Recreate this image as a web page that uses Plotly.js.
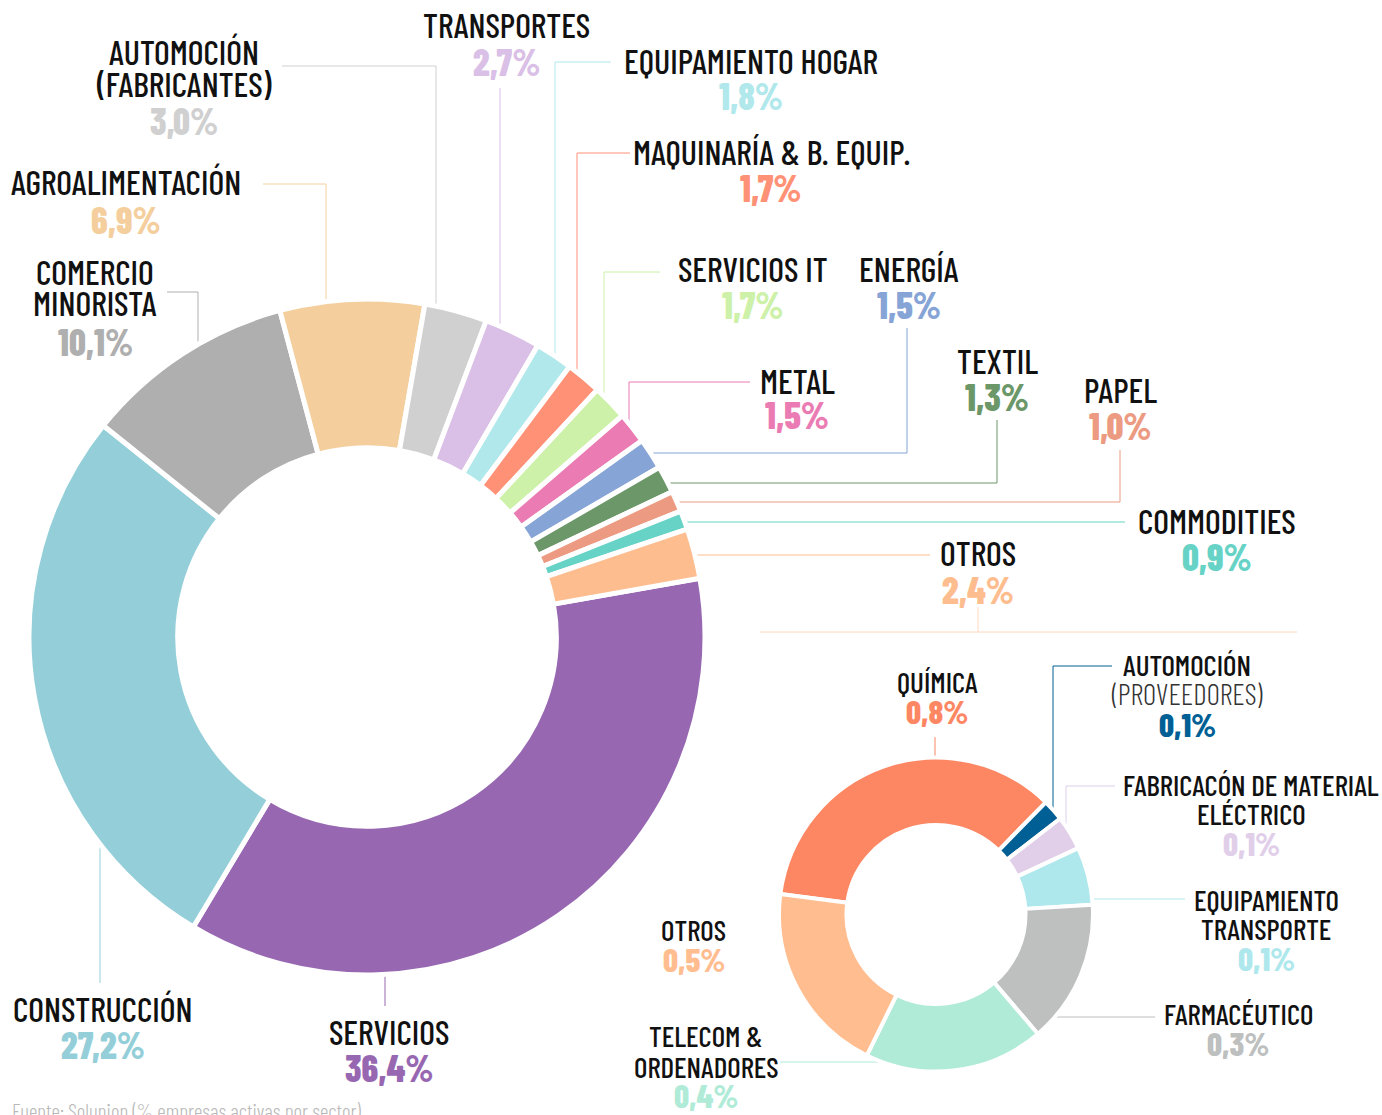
<!DOCTYPE html>
<html><head><meta charset="utf-8">
<script src="https://cdn.plot.ly/plotly-3.0.1.min.js"></script>
<style>html,body{margin:0;padding:0;background:#fff}#chart{width:1382px;height:1115px}</style>
</head><body><div id="chart"></div>
<script>
// ---------------- DATA ----------------
const bigLabels = ["Servicios","Construcción","Comercio minorista","Agroalimentación","Automoción (fabricantes)","Transportes","Equipamiento hogar","Maquinaría & B. equip.","Servicios IT","Metal","Energía","Textil","Papel","Commodities","Otros"];
const bigValues = [36.4,27.2,10.1,6.9,3.0,2.7,1.8,1.7,1.7,1.5,1.5,1.3,1.0,0.9,2.4];
const bigColors = ["#9768b1","#94cfd9","#afafb0","#f4cf9d","#cfd0cf","#dabfe6","#b0e8ec","#ff9176","#cdf1a8","#eb7bb3","#86a4d6","#6c9769","#ec9b82","#66d3c6","#febd8f"];
const bigNames = [["SERVICIOS"],["CONSTRUCCIÓN"],["COMERCIO","MINORISTA"],["AGROALIMENTACIÓN"],["AUTOMOCIÓN","(FABRICANTES)"],["TRANSPORTES"],["EQUIPAMIENTO HOGAR"],["MAQUINARÍA & B. EQUIP."],["SERVICIOS IT"],["METAL"],["ENERGÍA"],["TEXTIL"],["PAPEL"],["COMMODITIES"],["OTROS"]];

const smallLabels = ["Química","Automoción (proveedores)","Fabricacón de material eléctrico","Equipamiento transporte","Farmacéutico","Telecom & ordenadores","Otros"];
const smallValues = [0.8,0.05,0.08,0.135,0.335,0.42,0.45];   // slice sizes
const smallPrinted = [0.8,0.1,0.1,0.1,0.3,0.4,0.5];           // printed percentages
const smallColors = ["#fe8763","#005f94","#e1cfea","#afe8ec","#bebfbf","#b0ebd8","#ffbd90"];
const smallNames = [["QUÍMICA"],["AUTOMOCIÓN","(PROVEEDORES)"],["FABRICACÓN DE MATERIAL","ELÉCTRICO"],["EQUIPAMIENTO","TRANSPORTE"],["FARMACÉUTICO"],["TELECOM &","ORDENADORES"],["OTROS"]];

const sourceNote = "Fuente: Solunion (% empresas activas por sector)";

// ---------------- LAYOUT ----------------
const W = 1382, H = 1115;
const FONT = '"Barlow Condensed","Roboto Condensed","Open Sans",sans-serif';
const px = x => x / W, py = y => 1 - y / H;
const TEXT_DY = -2;

const bigDom = {x:[px(29), px(705)], y:[py(975), py(299)]};
const smallDom = {x:[px(779), px(1093)], y:[py(1071.5), py(757.5)]};

function geom(dom){
  const w = (dom.x[1]-dom.x[0])*W, h = (dom.y[1]-dom.y[0])*H;
  return {cx:(dom.x[0]+dom.x[1])/2*W, cy:(1-(dom.y[0]+dom.y[1])/2)*H, r:Math.min(w,h)/2};
}
const gBig = geom(bigDom), gSmall = geom(smallDom);

function edgePoint(g, e){
  if (e.x !== undefined){
    const d = Math.sqrt(Math.max(0, g.r*g.r - (e.x-g.cx)*(e.x-g.cx)));
    return [e.x, e.side === 'top' ? g.cy - d : g.cy + d];
  } else {
    const d = Math.sqrt(Math.max(0, g.r*g.r - (e.y-g.cy)*(e.y-g.cy)));
    return [e.side === 'right' ? g.cx + d : g.cx - d, e.y];
  }
}

// label placement (pixels): x, first-line y, line gap, percentage y, leader route
const bigPlace = [
  {x:389, y:1033, gap:32, py:1069, edge:{x:385, side:'bottom'}, pts:[[385,1006]]},
  {x:103, y:1010, gap:32, py:1046, edge:{x:100, side:'bottom'}, pts:[[100,983]]},
  {x:95,  y:273,  gap:32, py:343,  edge:{x:198, side:'top'}, pts:[[198,292],[167,292]]},
  {x:126, y:184,  gap:32, py:221,  edge:{x:326, side:'top'}, pts:[[326,184],[263,184]]},
  {x:184, y:53,   gap:32, py:122,  edge:{x:436, side:'top'}, pts:[[436,66],[282,66]]},
  {x:506, y:27,   gap:32, py:63,   edge:{x:500, side:'top'}, pts:[[500,88]]},
  {x:751, y:62,   gap:32, py:97,   edge:{x:555, side:'top'}, pts:[[555,62],[611,62]]},
  {x:771, y:153,  gap:32, py:189,  edge:{x:577, side:'top'}, pts:[[577,153],[630,153]]},
  {x:753, y:271,  gap:32, py:306,  edge:{x:604, side:'top'}, pts:[[604,272],[660,272]]},
  {x:797, y:382,  gap:32, py:416,  edge:{x:629, side:'top'}, pts:[[629,382],[750,382]]},
  {x:909, y:271,  gap:32, py:306,  edge:{y:453, side:'right'}, pts:[[907,453],[907,328]]},
  {x:997, y:362,  gap:32, py:398,  edge:{y:483, side:'right'}, pts:[[997,483],[997,420]]},
  {x:1120,y:391,  gap:32, py:427,  edge:{y:502, side:'right'}, pts:[[1120,502],[1120,450]]},
  {x:1217,y:522,  gap:32, py:558,  edge:{y:522, side:'right'}, pts:[[1125,522]]},
  {x:978, y:554,  gap:32, py:591,  edge:{y:555, side:'right'}, pts:[[930,555]]}
];
const smallPlace = [
  {x:937, y:683, gap:29, py:713, edge:{x:935, side:'top'}, pts:[[935,737]]},
  {x:1187,y:666, gap:29, py:726, edge:{x:1053, side:'top'}, pts:[[1053,666],[1112,666]], light:[1]},
  {x:1251,y:786, gap:29, py:845, edge:{x:1066, side:'top'}, pts:[[1066,786],[1115,786]]},
  {x:1266,y:901, gap:29, py:960, edge:{y:899, side:'right'}, pts:[[1185,899]]},
  {x:1238,y:1015,gap:29, py:1045,edge:{y:1017, side:'right'}, pts:[[1155,1017]]},
  {x:706, y:1037,gap:31, py:1097,edge:{y:1062, side:'left'}, pts:[[780,1062]]},
  {x:694, y:931, gap:29, py:961, edge:null}
];
const pctColorOverride = {big:{4:"#d0d0d0"}, small:{}};

const fmt = v => v.toFixed(1).replace('.', ',') + '%';

const annotations = [], shapes = [];
function addLabels(names, values, colors, place, g, nameSize, pctSize, override){
  names.forEach((lines, i) => {
    const p = place[i];
    lines.forEach((t, k) => {
      const light = p.light && p.light.includes(k);
      annotations.push({xref:'paper', yref:'paper', x:px(p.x), y:py(p.y + k*p.gap + TEXT_DY), xanchor:'center', yanchor:'middle',
        text:t, showarrow:false, borderpad:0, font:{family:FONT, size:nameSize, color: light ? '#333' : '#111', weight: light ? 300 : 500}});
    });
    annotations.push({xref:'paper', yref:'paper', x:px(p.x), y:py(p.py + TEXT_DY), xanchor:'center', yanchor:'middle',
      text:fmt(values[i]), showarrow:false, borderpad:0, font:{family:FONT, size:pctSize, color:override[i] || colors[i], weight:800}});
    if (p.edge){
      const e = edgePoint(g, p.edge);
      const all = [e].concat(p.pts);
      const path = all.map((q, k) => (k ? 'L' : 'M') + px(q[0]) + ',' + py(q[1])).join(' ');
      shapes.push({type:'path', xref:'paper', yref:'paper', path, line:{color:colors[i], width:1}, layer:'below'});
    }
  });
}
addLabels(bigNames, bigValues, bigColors, bigPlace, gBig, 34, 37, pctColorOverride.big);
addLabels(smallNames, smallPrinted, smallColors, smallPlace, gSmall, 29, 33, pctColorOverride.small);

// link between "Otros" of the big donut and the small donut
shapes.push({type:'path', xref:'paper', yref:'paper', path:'M'+px(760)+','+py(632)+' L'+px(1297)+','+py(632), line:{color:'#fdd8c2', width:1}});
shapes.push({type:'path', xref:'paper', yref:'paper', path:'M'+px(978)+','+py(607)+' L'+px(978)+','+py(632), line:{color:'#fdd8c2', width:1}});

annotations.push({xref:'paper', yref:'paper', x:px(11), y:py(1110), xanchor:'left', yanchor:'middle', text:sourceNote,
  showarrow:false, borderpad:0, font:{family:FONT, size:21, color:'#b8b8b8', weight:300}});

const traces = [
  {type:'pie', labels:bigLabels, values:bigValues, sort:false, direction:'clockwise', rotation:80, hole:0.56,
   marker:{colors:bigColors, line:{color:'#ffffff', width:5}}, textinfo:'none', hoverinfo:'label+percent',
   domain:bigDom, showlegend:false},
  {type:'pie', labels:smallLabels, values:smallValues, sort:false, direction:'clockwise', rotation:277.5, hole:0.57,
   marker:{colors:smallColors, line:{color:'#ffffff', width:4}}, textinfo:'none', hoverinfo:'label',
   domain:smallDom, showlegend:false}
];

const layout = {width:W, height:H, margin:{l:0,r:0,t:0,b:0}, paper_bgcolor:'#fff', plot_bgcolor:'#fff',
  showlegend:false, annotations, shapes};

Plotly.newPlot('chart', traces, layout, {staticPlot:true, displayModeBar:false});
</script></body></html>
